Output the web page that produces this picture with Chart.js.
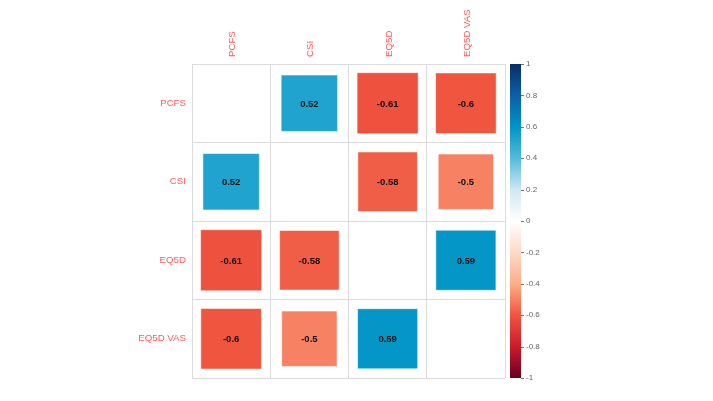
<!DOCTYPE html>
<html>
<head>
<meta charset="utf-8">
<script src="https://cdn.jsdelivr.net/npm/chart.js@4.4.0/dist/chart.umd.min.js"></script>
<style>
  html, body { margin: 0; padding: 0; background: #fff; }
  #wrap { width: 713px; height: 401px; }
</style>
</head>
<body>
<div id="wrap"><canvas id="corrChart" width="713" height="401"></canvas></div>
<script>
// variables (rows / columns of the matrix)
var variables = ['PCFS', 'CSI', 'EQ5D', 'EQ5D VAS'];
// correlation coefficients, one row per variable
var pcfsRow = [1, 0.52, -0.61, -0.6];
var csiRow = [0.52, 1, -0.58, -0.5];
var eq5dRow = [-0.61, -0.58, 1, 0.59];
var eq5dVasRow = [-0.6, -0.5, 0.59, 1];
var corrRows = [pcfsRow, csiRow, eq5dRow, eq5dVasRow];

// colour bar stops (value -> colour)
var stopValues = [-1, -0.8, -0.6, -0.4, -0.2, 0, 0.2, 0.4, 0.6, 0.8, 1];
var stopColors = ['#67001f', '#cc1a2c', '#f05540', '#fdae85', '#fdd9c8', '#ffffff',
                  '#cfe7f2', '#50bcdc', '#0094c6', '#0b5fa8', '#062f66'];

function hexToRgb(h) {
  return [parseInt(h.substr(1, 2), 16), parseInt(h.substr(3, 2), 16), parseInt(h.substr(5, 2), 16)];
}

function colorFor(v) {
  for (var i = 0; i < stopValues.length - 1; i++) {
    if (v <= stopValues[i + 1]) {
      var t = (v - stopValues[i]) / (stopValues[i + 1] - stopValues[i]);
      var a = hexToRgb(stopColors[i]), b = hexToRgb(stopColors[i + 1]);
      return 'rgb(' + Math.round(a[0] + (b[0] - a[0]) * t) + ',' +
        Math.round(a[1] + (b[1] - a[1]) * t) + ',' +
        Math.round(a[2] + (b[2] - a[2]) * t) + ')';
    }
  }
  return stopColors[stopColors.length - 1];
}

// off-diagonal cells only
var points = [];
corrRows.forEach(function (row, i) {
  row.forEach(function (r, j) {
    if (i !== j) points.push({ x: variables[j], y: variables[i], r: r });
  });
});

// square side = sqrt(|r|) * cell width; 'rect' point side = radius * sqrt(2)
function squareRadius(ctx) {
  var xs = ctx.chart.scales.x;
  var cell = xs.width / variables.length;
  var v = ctx.raw ? ctx.raw.r : 0;
  return Math.sqrt(Math.abs(v)) * cell / Math.SQRT2;
}

var gridColor = '#dcdcdc';
var labelColor = '#ff5b5b';

// numbers in the squares
var valueLabels = {
  id: 'valueLabels',
  afterDatasetsDraw: function (chart) {
    var ctx = chart.ctx;
    var meta = chart.getDatasetMeta(0);
    ctx.save();
    ctx.font = 'bold 9.5px "Liberation Sans", Arial, sans-serif';
    ctx.fillStyle = '#111';
    ctx.textAlign = 'center';
    ctx.textBaseline = 'middle';
    meta.data.forEach(function (el, k) {
      ctx.fillText(String(points[k].r), el.x, el.y + 1);
    });
    ctx.restore();
  }
};

// gradient colour bar drawn inside the right-hand axis box
var colorBar = {
  id: 'colorBar',
  afterDraw: function (chart) {
    var s = chart.scales.cb;
    var ctx = chart.ctx;
    var x0 = s.left + 5, w = 11;
    var top = s.getPixelForValue(1), bottom = s.getPixelForValue(-1);
    var grad = ctx.createLinearGradient(0, bottom, 0, top);
    stopValues.forEach(function (v, i) {
      grad.addColorStop((v + 1) / 2, stopColors[i]);
    });
    ctx.save();
    ctx.fillStyle = grad;
    ctx.fillRect(x0, top, w, bottom - top);
    ctx.strokeStyle = '#777';
    ctx.lineWidth = 1;
    s.ticks.forEach(function (t) {
      var y = Math.round(s.getPixelForValue(t.value)) + 0.5;
      ctx.beginPath();
      ctx.moveTo(x0 + w, y);
      ctx.lineTo(x0 + w + 3, y);
      ctx.stroke();
    });
    ctx.restore();
  }
};

var chart = new Chart(document.getElementById('corrChart'), {
  type: 'scatter',
  data: {
    datasets: [{
      data: points,
      pointStyle: 'rect',
      pointRadius: squareRadius,
      pointHoverRadius: squareRadius,
      backgroundColor: function (ctx) { return colorFor(ctx.raw ? ctx.raw.r : 0); },
      hoverBackgroundColor: function (ctx) { return colorFor(ctx.raw ? ctx.raw.r : 0); },
      borderColor: 'rgba(255,255,255,0.55)',
      borderWidth: 1,
      hoverBorderWidth: 1
    }]
  },
  options: {
    responsive: false,
    animation: false,
    events: [],
    layout: { padding: { top: 0, left: 0, right: 0, bottom: 23 } },
    plugins: {
      legend: { display: false },
      tooltip: { enabled: false }
    },
    scales: {
      x: {
        type: 'category',
        labels: variables,
        position: 'top',
        offset: true,
        grid: { offset: true, color: gridColor, drawTicks: false },
        border: { color: gridColor },
        ticks: {
          minRotation: 90,
          maxRotation: 90,
          padding: 7,
          labelOffset: 13,
          color: labelColor,
          font: { family: '"Liberation Sans", Arial, sans-serif', size: 9.7 }
        },
        afterFit: function (s) { s.height = 64; }
      },
      y: {
        type: 'category',
        labels: variables,
        position: 'left',
        offset: true,
        grid: { offset: true, color: gridColor, drawTicks: false },
        border: { color: gridColor },
        ticks: {
          padding: 6,
          color: labelColor,
          font: { family: '"Liberation Sans", Arial, sans-serif', size: 9.7 }
        },
        afterFit: function (s) { s.width = 192; }
      },
      cb: {
        type: 'linear',
        position: 'right',
        min: -1,
        max: 1,
        grid: { drawOnChartArea: false, color: 'rgba(0,0,0,0)', tickLength: 19 },
        border: { display: false },
        ticks: {
          stepSize: 0.2,
          padding: 2,
          color: '#666',
          font: { family: '"Liberation Sans", Arial, sans-serif', size: 8 },
          callback: function (v) { return String(Math.round(v * 10) / 10); }
        },
        afterFit: function (s) { s.width = 208; }
      }
    }
  },
  plugins: [valueLabels, colorBar]
});
</script>
</body>
</html>
